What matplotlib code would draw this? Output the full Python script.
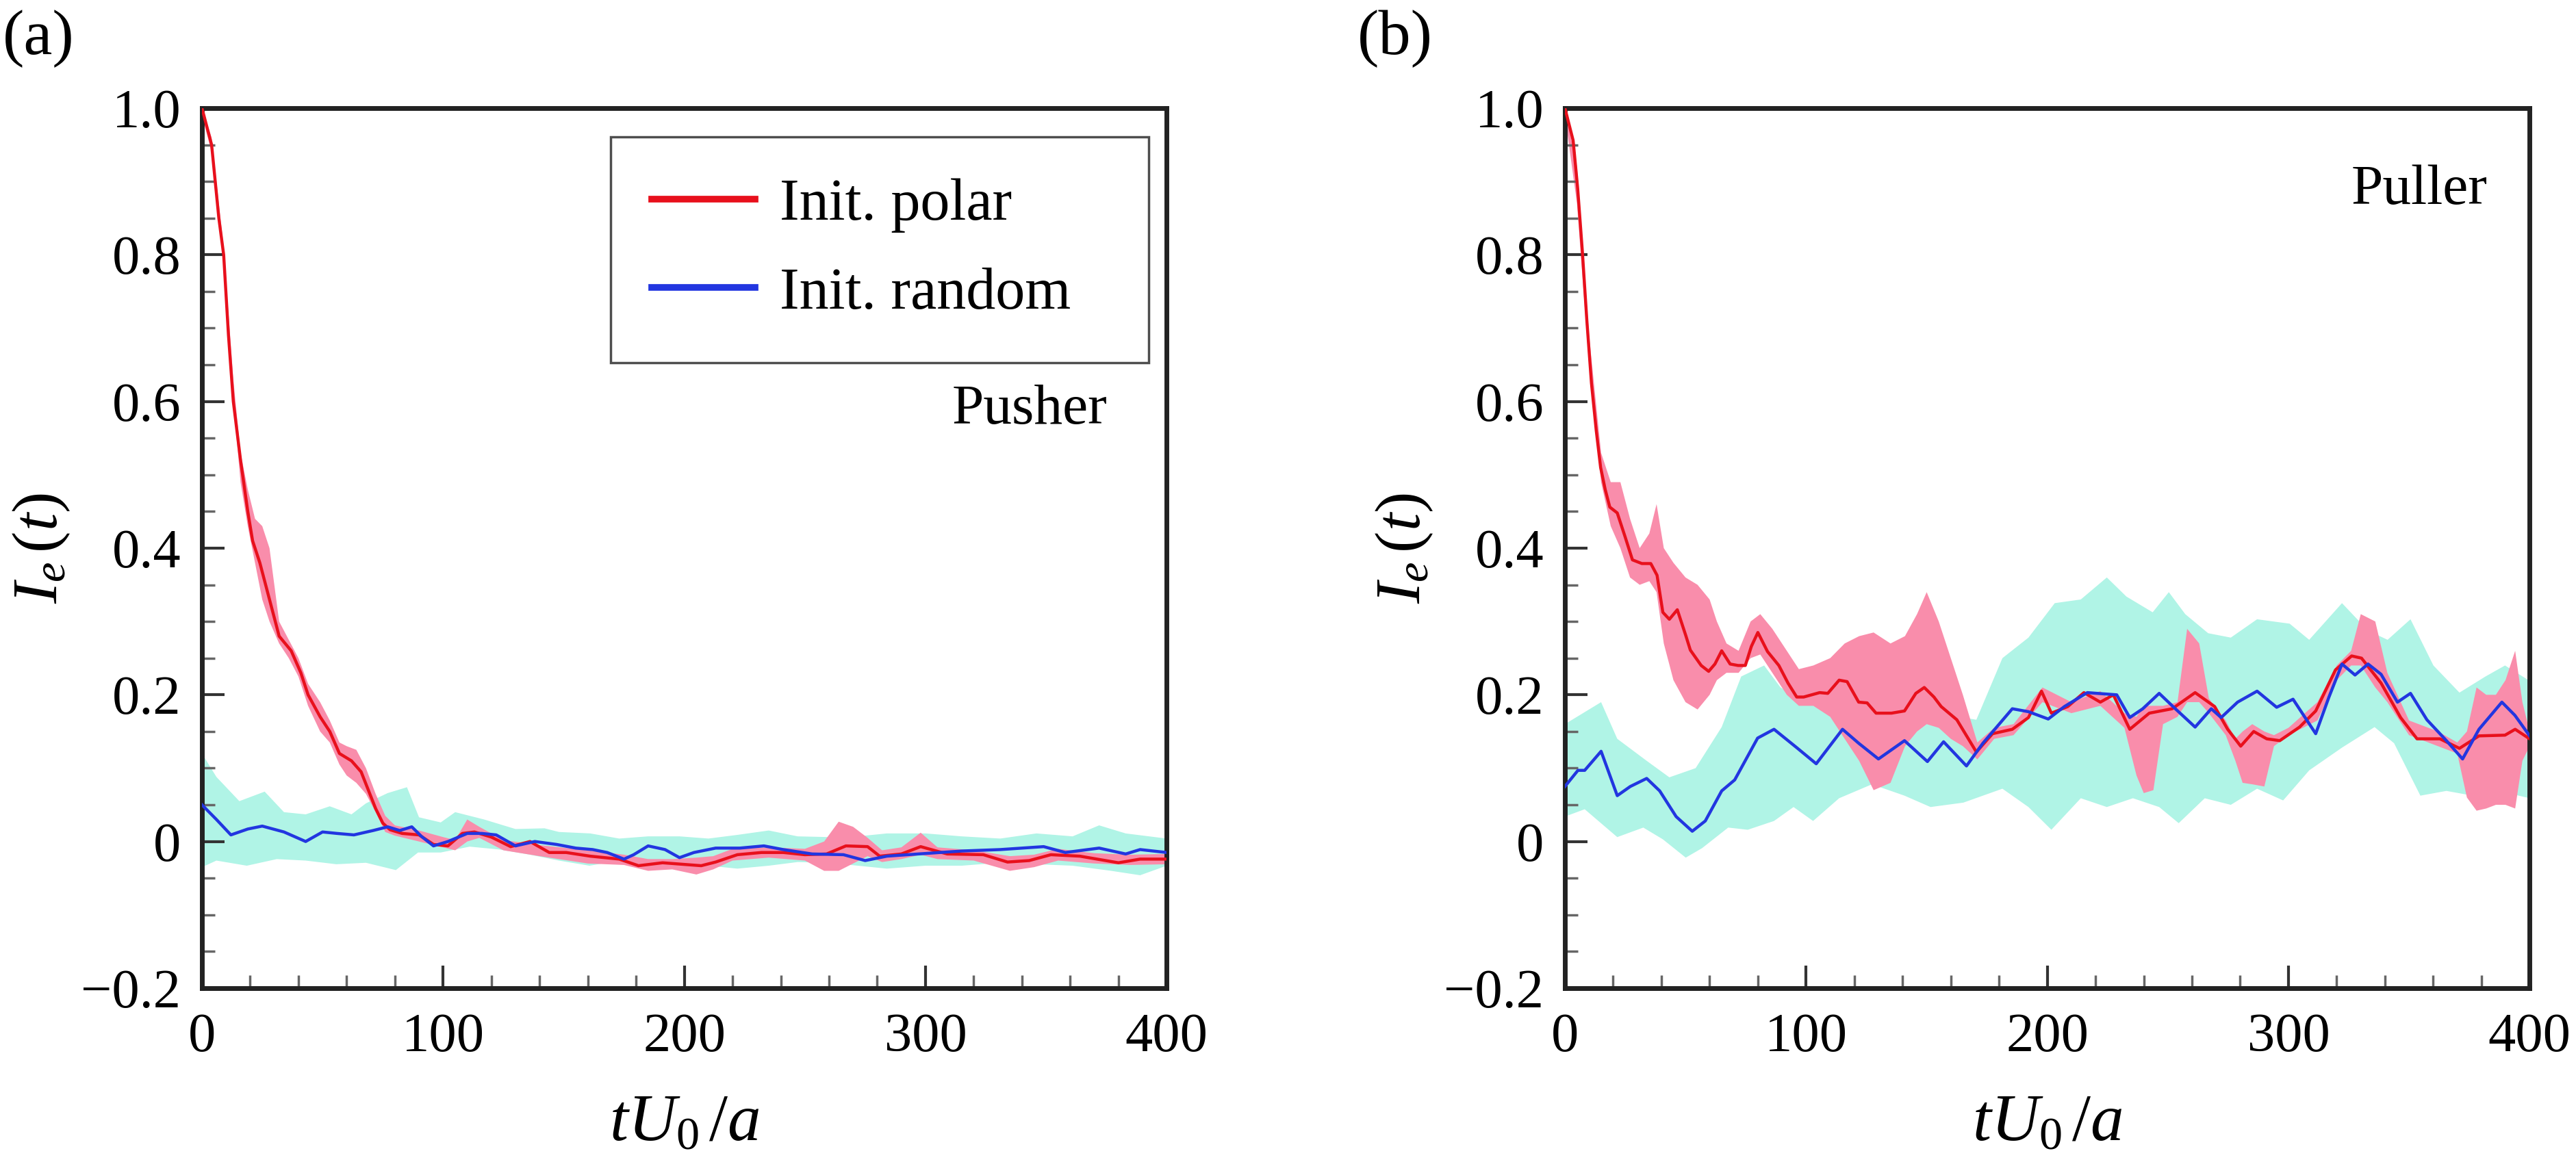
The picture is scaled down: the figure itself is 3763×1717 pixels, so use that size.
import numpy as np
import matplotlib.pyplot as plt
from matplotlib.lines import Line2D
from matplotlib.ticker import FixedLocator, FixedFormatter, MultipleLocator

plt.rcParams['font.family'] = ['Liberation Serif', 'DejaVu Serif']
plt.rcParams['mathtext.fontset'] = 'custom'
plt.rcParams['mathtext.rm'] = 'Liberation Serif'
plt.rcParams['mathtext.it'] = 'Liberation Serif:italic'

# ---------------- data ----------------
x_ticks = [0, 100, 200, 300, 400]
x_tick_labels = ['0', '100', '200', '300', '400']
y_ticks = [-0.2, 0.0, 0.2, 0.4, 0.6, 0.8, 1.0]
y_tick_labels = ['\u22120.2', '0', '0.2', '0.4', '0.6', '0.8', '1.0']

# (a) pusher, polar start
t_red_a = [0, 4, 7, 9, 11, 13, 16, 19, 21, 24, 28, 32, 37, 41, 44, 49, 53, 57, 62, 66,
           69, 72, 75, 78, 83, 90, 96, 102, 108, 113, 120, 128, 136, 144, 151, 161, 173, 181, 191, 199,
           207, 213, 222, 232, 241, 250, 259, 267, 276, 281, 290, 298, 309, 324, 334, 343, 352, 364, 380, 389,
           400]
red_a = [1.0, 0.95, 0.85, 0.80, 0.69, 0.60, 0.52, 0.45, 0.41, 0.38, 0.33, 0.28, 0.26, 0.23, 0.20, 0.17, 0.15, 0.12, 0.11, 0.095,
         0.07, 0.045, 0.025, 0.016, 0.011, 0.009, -0.004, -0.006, 0.011, 0.013, 0.006, -0.007, 0.0, -0.015, -0.015, -0.02, -0.024, -0.033, -0.029, -0.031,
         -0.033, -0.028, -0.018, -0.015, -0.015, -0.018, -0.017, -0.006, -0.007, -0.02, -0.017, -0.007, -0.017, -0.018, -0.028, -0.026, -0.018, -0.02, -0.029, -0.024,
         -0.024]
t_pink_a = [0, 4, 9, 13, 16, 19, 22, 25, 28, 32, 36, 40, 44, 49, 53, 57, 60, 64, 68, 72,
            76, 80, 90, 100, 105, 110, 115, 125, 140, 160, 175, 185, 195, 205, 212, 220, 235, 250, 258, 264,
            270, 276, 282, 290, 298, 305, 320, 335, 345, 355, 370, 385, 400]
pink_hi_a = [1.0, 0.96, 0.81, 0.63, 0.53, 0.48, 0.44, 0.43, 0.40, 0.30, 0.275, 0.25, 0.215, 0.19, 0.165, 0.135, 0.13, 0.125, 0.10, 0.065,
             0.035, 0.022, 0.015, 0.006, 0.002, 0.03, 0.02, 0.002, -0.005, -0.012, -0.018, -0.024, -0.024, -0.022, -0.02, -0.01, -0.008, -0.01, 0.0, 0.027,
             0.02, 0.005, -0.012, -0.008, 0.012, -0.008, -0.012, -0.02, -0.018, -0.01, -0.016, -0.018, -0.017]
pink_lo_a = [0.99, 0.94, 0.79, 0.60, 0.49, 0.43, 0.38, 0.33, 0.30, 0.27, 0.25, 0.225, 0.185, 0.15, 0.135, 0.105, 0.09, 0.08, 0.065, 0.04,
             0.013, 0.008, 0.0, -0.008, -0.012, 0.0, 0.005, -0.012, -0.02, -0.03, -0.032, -0.04, -0.038, -0.045, -0.038, -0.026, -0.022, -0.026, -0.04, -0.04,
             -0.03, -0.02, -0.028, -0.024, -0.018, -0.024, -0.026, -0.04, -0.035, -0.026, -0.03, -0.032, -0.031]

# (a) pusher, random start
t_blue_a = [0, 6, 12, 19, 25, 34, 43, 50, 56, 63, 71, 77, 82, 87, 91, 96, 102, 110, 116, 122,
            130, 138, 147, 155, 162, 168, 175, 179, 185, 192, 198, 204, 213, 223, 233, 241, 253, 266, 275, 284,
            297, 315, 331, 349, 358, 372, 383, 389, 400]
blue_a = [0.05, 0.03, 0.009, 0.017, 0.021, 0.013, 0.0, 0.013, 0.011, 0.009, 0.015, 0.02, 0.015, 0.02, 0.007, -0.006, 0.0, 0.011, 0.011, 0.009,
          -0.006, 0.0, -0.004, -0.009, -0.011, -0.015, -0.024, -0.018, -0.006, -0.011, -0.022, -0.015, -0.009, -0.009, -0.006, -0.011, -0.017, -0.018, -0.026, -0.02,
          -0.017, -0.013, -0.011, -0.007, -0.015, -0.009, -0.017, -0.011, -0.015]
t_cyan_hi_a = [0, 6, 15.5, 26, 34, 43, 53, 62, 68, 77, 85, 90, 99, 105, 117, 130, 142, 148, 161, 173,
               185, 198, 210, 222, 235, 247, 260, 272, 284, 300, 315, 331, 346, 361, 372, 383, 400]
cyan_hi_a = [0.12, 0.088, 0.055, 0.068, 0.04, 0.037, 0.048, 0.037, 0.052, 0.066, 0.074, 0.033, 0.026, 0.04, 0.03, 0.017, 0.018, 0.013, 0.011, 0.004,
             0.007, 0.007, 0.004, 0.009, 0.015, 0.007, 0.006, 0.007, 0.011, 0.011, 0.007, 0.004, 0.011, 0.007, 0.022, 0.011, 0.004]
t_cyan_lo_a = [0, 6, 18.6, 31, 43, 55.7, 68, 80.4, 89.6, 99, 111, 123.6, 136, 148, 160.7, 173, 185, 198, 210, 222,
               235, 247, 259.5, 272, 284, 300, 315, 330.5, 346, 361, 377, 389, 400]
cyan_lo_a = [-0.035, -0.026, -0.033, -0.024, -0.026, -0.031, -0.029, -0.039, -0.015, -0.015, -0.007, -0.011, -0.018, -0.026, -0.033, -0.026, -0.033, -0.031, -0.033, -0.037,
             -0.033, -0.028, -0.029, -0.033, -0.037, -0.033, -0.033, -0.029, -0.031, -0.033, -0.04, -0.046, -0.033]

# (b) puller, polar start
t_red_b = [0, 3.4, 5.3, 7.2, 9.1, 11, 13, 14.8, 16.7, 18.6, 21.7, 24.9, 28, 31.9, 35.6, 38.2, 40.6, 43.3, 46.6, 50.1,
           52, 56.5, 59.6, 62.2, 65, 68.5, 71.8, 74.8, 77.3, 80, 84, 88.7, 92.5, 96.1, 99, 105.6, 109, 113.7, 117, 121.8,
           125.3, 129, 135.4, 140.8, 145.5, 149, 153, 156, 162.5, 170.6, 177.3, 185.5, 192.2, 197.6, 201.7, 208.5, 215.2, 222, 227.4, 234.2,
           242.3, 251.8, 261.3, 269.4, 274.8, 280.2, 285.6, 291, 296.4, 304.6, 311.3, 319.5, 326.2, 330.3, 338.4, 346.5, 353.3, 362.8, 370.9, 379,
           389.8, 394, 400]
red_b = [1.0, 0.956, 0.89, 0.806, 0.71, 0.625, 0.56, 0.51, 0.48, 0.456, 0.448, 0.416, 0.384, 0.379, 0.379, 0.363, 0.3125, 0.303, 0.316, 0.281,
         0.261, 0.24, 0.232, 0.242, 0.26, 0.242, 0.24, 0.24, 0.266, 0.285, 0.259, 0.24, 0.216, 0.197, 0.197, 0.203, 0.202, 0.22, 0.218, 0.19,
         0.189, 0.175, 0.175, 0.178, 0.202, 0.21, 0.197, 0.184, 0.166, 0.122, 0.147, 0.153, 0.169, 0.205, 0.175, 0.184, 0.203, 0.19, 0.2, 0.153,
         0.175, 0.181, 0.203, 0.184, 0.153, 0.13, 0.15, 0.14, 0.1375, 0.156, 0.178, 0.234, 0.253, 0.25, 0.216, 0.169, 0.14, 0.14, 0.127, 0.144,
         0.145, 0.153, 0.14]
t_pink_b = [0, 5, 10, 15, 19, 23, 27, 31, 35, 38, 41, 45, 50, 55, 60, 63, 67, 72, 77, 81,
            86, 92, 97, 103, 110, 116, 122, 128, 135, 141, 146, 150, 155, 160, 165, 171, 178, 186, 198, 210,
            222, 232, 237, 240, 244, 248, 254, 258, 263, 267, 274, 278, 281, 285, 290, 294, 300, 312, 320, 326,
            330, 336, 341, 350, 362, 370, 374, 378, 382, 386, 390, 394, 397, 400]
pink_hi_b = [1.0, 0.92, 0.69, 0.53, 0.49, 0.49, 0.44, 0.40, 0.42, 0.46, 0.40, 0.38, 0.36, 0.35, 0.33, 0.30, 0.27, 0.26, 0.30, 0.31,
             0.29, 0.26, 0.235, 0.24, 0.25, 0.27, 0.28, 0.285, 0.27, 0.28, 0.31, 0.34, 0.30, 0.25, 0.20, 0.135, 0.155, 0.16, 0.21, 0.19,
             0.205, 0.175, 0.17, 0.185, 0.185, 0.185, 0.19, 0.29, 0.27, 0.195, 0.165, 0.14, 0.15, 0.16, 0.15, 0.145, 0.155, 0.19, 0.24, 0.26,
             0.31, 0.30, 0.23, 0.165, 0.15, 0.135, 0.15, 0.21, 0.20, 0.20, 0.22, 0.26, 0.19, 0.15]
pink_lo_b = [0.99, 0.87, 0.65, 0.49, 0.43, 0.40, 0.36, 0.35, 0.355, 0.34, 0.27, 0.22, 0.19, 0.18, 0.20, 0.22, 0.23, 0.23, 0.25, 0.255,
             0.23, 0.20, 0.185, 0.185, 0.17, 0.14, 0.11, 0.07, 0.08, 0.13, 0.15, 0.16, 0.155, 0.14, 0.13, 0.112, 0.14, 0.145, 0.19, 0.175,
             0.185, 0.155, 0.09, 0.066, 0.07, 0.16, 0.17, 0.19, 0.19, 0.175, 0.145, 0.11, 0.08, 0.078, 0.075, 0.13, 0.145, 0.165, 0.22, 0.24,
             0.24, 0.21, 0.19, 0.145, 0.13, 0.12, 0.06, 0.042, 0.045, 0.05, 0.05, 0.045, 0.11, 0.13]

# (b) puller, random start
t_blue_b = [0, 5.4, 8.2, 15, 21.7, 27.1, 33.9, 39.3, 46.1, 52.8, 58.2, 65, 70.4, 79.9, 86.7, 96.1, 104.2, 115.1, 121.8, 130,
            140.8, 150.3, 157, 166.5, 173.3, 185.5, 192.2, 200.4, 207.1, 216.6, 228.8, 234.2, 239.6, 246.4, 253.1, 261.3, 268, 272.1, 278.9, 287,
            295.1, 301.9, 311.3, 316.8, 322.2, 327.6, 333, 338.4, 345.2, 350.6, 357.4, 365.5, 372.2, 379, 388.5, 393.9, 400]
blue_b = [0.075, 0.097, 0.097, 0.123, 0.0625, 0.075, 0.086, 0.069, 0.034, 0.014, 0.028, 0.069, 0.084, 0.141, 0.153, 0.128, 0.106, 0.153, 0.134, 0.1125,
          0.1375, 0.109, 0.136, 0.103, 0.134, 0.181, 0.177, 0.167, 0.184, 0.203, 0.2, 0.169, 0.181, 0.202, 0.181, 0.156, 0.181, 0.169, 0.19, 0.205,
          0.183, 0.194, 0.147, 0.197, 0.242, 0.227, 0.242, 0.228, 0.19, 0.202, 0.166, 0.1375, 0.1125, 0.153, 0.19, 0.172, 0.144]
t_cyan_hi_b = [0, 15, 21.7, 33.9, 43.3, 54.2, 65, 73.1, 82.6, 89.4, 100.2, 111, 121.8, 132.7, 143.5, 151.6, 159.7, 170.6, 181.4, 192.2,
               203.1, 213.9, 224.7, 232.8, 243.7, 250.4, 257.2, 266.7, 276.1, 287, 300.5, 308.6, 322.2, 333, 341.1, 350.6, 360.1, 370.9, 381.7, 389.8,
               400]
cyan_hi_b = [0.16, 0.19, 0.14, 0.11, 0.0875, 0.1, 0.156, 0.225, 0.24, 0.21, 0.19, 0.172, 0.175, 0.16, 0.172, 0.184, 0.172, 0.166, 0.25, 0.278,
             0.325, 0.33, 0.36, 0.334, 0.3125, 0.34, 0.31, 0.284, 0.278, 0.303, 0.297, 0.275, 0.325, 0.2875, 0.275, 0.303, 0.24, 0.203, 0.225, 0.24,
             0.219]
t_cyan_lo_b = [0, 8.2, 21.7, 32.5, 40.6, 50.1, 56.9, 67.7, 75.8, 86.7, 94.8, 102.9, 113.7, 127.3, 140.8, 151.6, 165.2, 181.4, 192.2, 201.7,
               213.9, 224.7, 235.5, 246.4, 254.5, 265.3, 276.1, 287, 297.8, 308.6, 322.2, 335.7, 343.8, 354.7, 365.5, 376.3, 387.2, 400]
cyan_lo_b = [0.034, 0.044, 0.006, 0.019, 0.003, -0.022, -0.009, 0.019, 0.016, 0.028, 0.047, 0.028, 0.059, 0.078, 0.0625, 0.047, 0.053, 0.072, 0.047, 0.016,
             0.059, 0.047, 0.059, 0.047, 0.025, 0.059, 0.05, 0.072, 0.056, 0.097, 0.128, 0.156, 0.134, 0.0625, 0.069, 0.0625, 0.069, 0.059]

RED = '#e8101c'
BLUE = '#2236e0'
PINK = '#f98dab'
CYAN = '#b0f4e6'
SPINE = '#222222'


def band(ax, t_hi, hi, t_lo, lo, color):
    xs = np.concatenate([t_hi, t_lo[::-1]])
    ys = np.concatenate([hi, lo[::-1]])
    ax.fill(xs, ys, color=color, lw=0, zorder=1)


def style_axes(ax):
    ax.set_xlim(0, 400)
    ax.set_ylim(-0.2, 1.0)
    ax.xaxis.set_major_locator(FixedLocator(x_ticks))
    ax.xaxis.set_major_formatter(FixedFormatter(x_tick_labels))
    ax.yaxis.set_major_locator(FixedLocator(y_ticks))
    ax.yaxis.set_major_formatter(FixedFormatter(y_tick_labels))
    ax.xaxis.set_minor_locator(MultipleLocator(20))
    ax.yaxis.set_minor_locator(MultipleLocator(0.05))
    ax.tick_params(which='both', direction='in', top=False, right=False, colors='#333333')
    ax.tick_params(which='major', length=24, width=3, labelsize=58, labelcolor='black')
    ax.tick_params(axis='x', which='major', pad=26)
    ax.tick_params(axis='y', which='major', pad=22)
    ax.tick_params(which='minor', length=14, width=2.5, colors='#666666')
    for sp in ax.spines.values():
        sp.set_linewidth(5)
        sp.set_color(SPINE)
    ax.set_xlabel(r'$tU_0\,/a$', fontsize=70)
    ax.set_ylabel(r'$I_e\,(t)$', fontsize=68)
    ax.xaxis.set_label_coords(0.5, -0.12)
    ax.yaxis.set_label_coords(-0.135, 0.5)


fig = plt.figure(figsize=(37.63, 17.17), dpi=100)
ax_a = fig.add_axes([0.0784, 0.159, 0.3745, 0.749])
ax_b = fig.add_axes([0.6075, 0.159, 0.3745, 0.749])

# panel (a)
band(ax_a, np.array(t_cyan_hi_a), np.array(cyan_hi_a), np.array(t_cyan_lo_a), np.array(cyan_lo_a), CYAN)
band(ax_a, np.array(t_pink_a), np.array(pink_hi_a), np.array(t_pink_a), np.array(pink_lo_a), PINK)
ax_a.plot(t_red_a, red_a, color=RED, lw=3.2, zorder=3)
ax_a.plot(t_blue_a, blue_a, color=BLUE, lw=3.2, zorder=4)
style_axes(ax_a)
ax_a.text(311, 0.57, 'Pusher', fontsize=60, va='baseline', ha='left')
handles = [Line2D([0], [0], color=RED, lw=7), Line2D([0], [0], color=BLUE, lw=7)]
leg = ax_a.legend(handles, ['Init. polar', 'Init. random'], loc='upper left',
                  bbox_to_anchor=(0.4235, 0.728, 0.558, 0.239), mode='expand',
                  fontsize=62, frameon=True, fancybox=False, borderaxespad=0,
                  borderpad=0.7, labelspacing=0.58, handlelength=1.75, handletextpad=0.42)
leg.get_frame().set_edgecolor('#222222')
leg.get_frame().set_linewidth(2.5)

# panel (b)
band(ax_b, np.array(t_cyan_hi_b), np.array(cyan_hi_b), np.array(t_cyan_lo_b), np.array(cyan_lo_b), CYAN)
band(ax_b, np.array(t_pink_b), np.array(pink_hi_b), np.array(t_pink_b), np.array(pink_lo_b), PINK)
ax_b.plot(t_red_b, red_b, color=RED, lw=3.2, zorder=3)
ax_b.plot(t_blue_b, blue_b, color=BLUE, lw=3.2, zorder=4)
style_axes(ax_b)
ax_b.text(326, 0.869, 'Puller', fontsize=60, va='baseline', ha='left')

fig.text(0.001, 0.992, '(a)', fontsize=68, va='top', ha='left')
fig.text(0.527, 0.992, '(b)', fontsize=68, va='top', ha='left')

fig.savefig('out.png', dpi=100)
